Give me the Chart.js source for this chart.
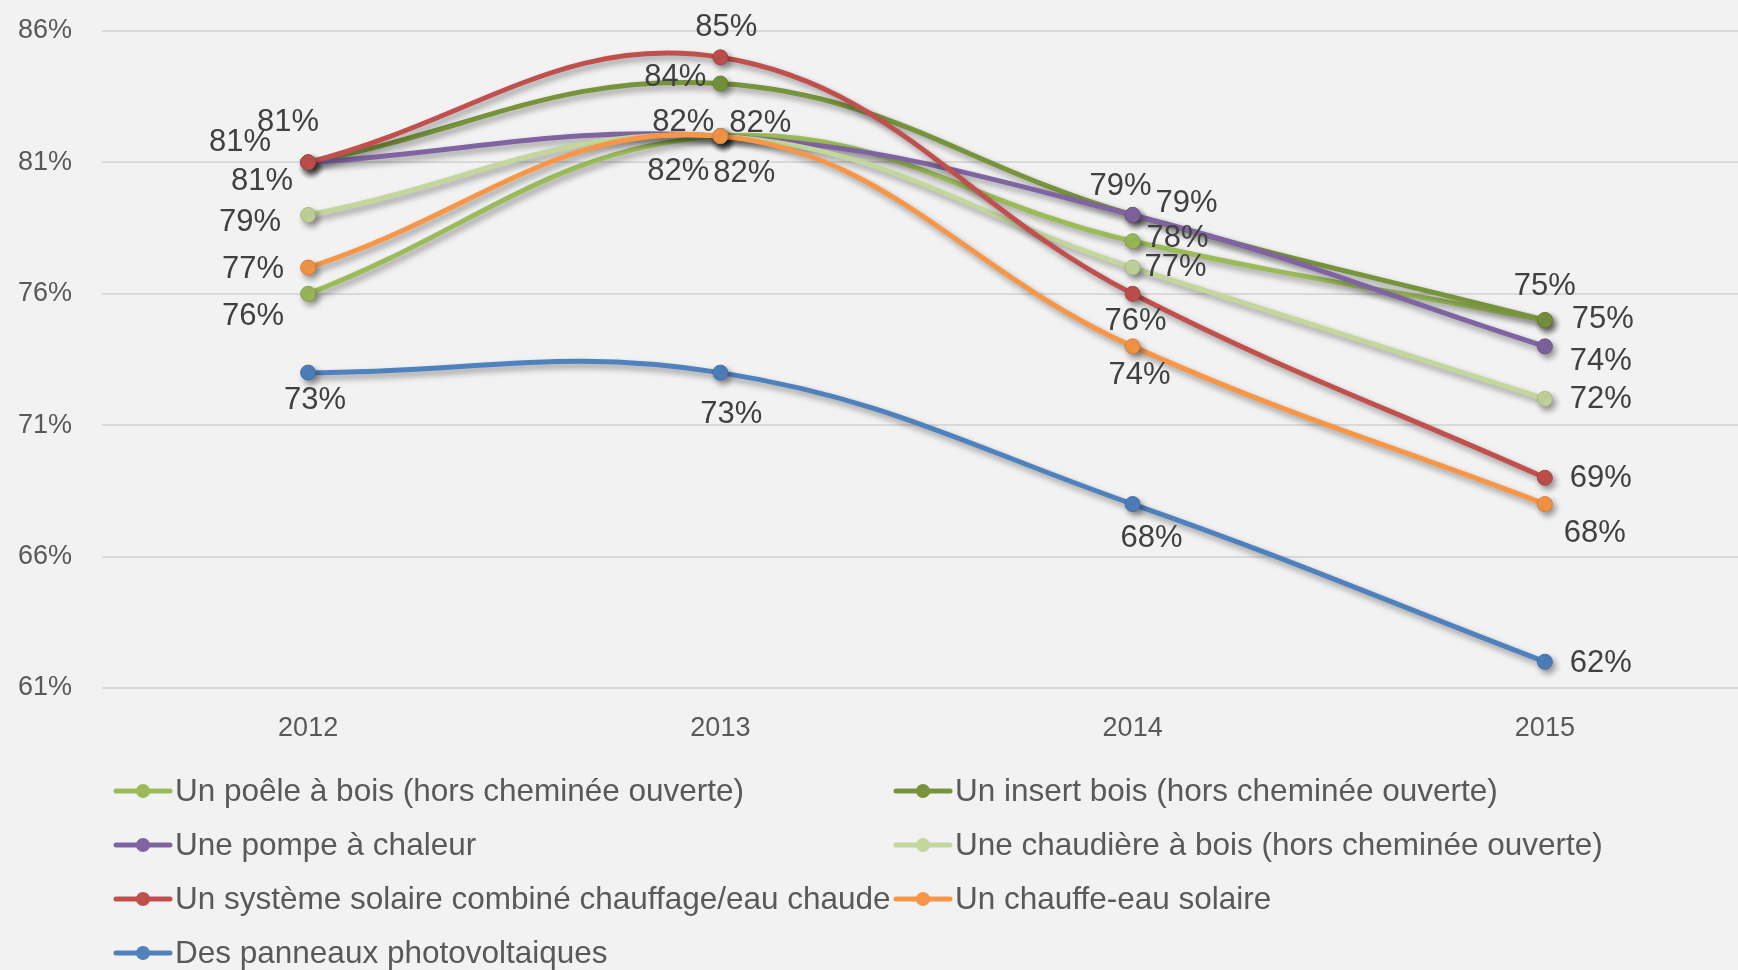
<!DOCTYPE html>
<html>
<head>
<meta charset="utf-8">
<script src="https://cdn.jsdelivr.net/npm/chart.js@4.4.1/dist/chart.umd.min.js"></script>
<style>
    html, body {margin: 0; padding: 0; background: #f2f2f2; overflow: hidden;}
    #wrap {width: 1760px; height: 970px;}
</style>
</head>
<body>
<div id="wrap"><canvas id="chart" width="1760" height="970"></canvas></div>
<script>
const years = ['2012', '2013', '2014', '2015'];
const seriesNames = [
    'Un poêle à bois (hors cheminée ouverte)',
    'Un insert bois (hors cheminée ouverte)',
    'Une pompe à chaleur',
    'Une chaudière à bois (hors cheminée ouverte)',
    'Un système solaire combiné chauffage/eau chaude',
    'Un chauffe-eau solaire',
    'Des panneaux photovoltaiques'
];
const poeleBois = [76, 82, 78, 75];
const insertBois = [81, 84, 79, 75];
const pompeChaleur = [81, 82, 79, 74];
const chaudiereBois = [79, 82, 77, 72];
const solaireCombine = [81, 85, 76, 69];
const chauffeEau = [77, 82, 74, 68];
const photovoltaique = [73, 73, 68, 62];
const yMin = 61, yMax = 86, yStep = 5;

const seriesValues = [poeleBois, insertBois, pompeChaleur, chaudiereBois, solaireCombine, chauffeEau, photovoltaique];
const colors = ['#9bbb59', '#77933c', '#8064a2', '#c3d69b', '#c0504d', '#f79646', '#4f81bd'];

// where each value label sits, relative to its point (dx, dy)
const labelOffsets = [
    [[-55, 23], [-42, 35], [45, -3], [58, -1]],
    [[-20, -40], [-45, -6], [54, -12], [0, -34]],
    [[-68, -20], [-37, -14], [-12, -29], [56, 15]],
    [[-58, 7], [40, -13], [43, 0], [56, 1]],
    [[-46, 19], [6, -30], [3, 28], [56, 1]],
    [[-55, 2], [24, 37], [7, 29], [50, 29]],
    [[7, 28], [11, 42], [19, 34], [56, 2]]
];

const font = '"Liberation Sans", Arial, sans-serif';

function darken(hex, f) {
    const n = parseInt(hex.slice(1), 16);
    const c = [n >> 16, (n >> 8) & 255, n & 255].map(v => Math.round(v * f));
    return 'rgb(' + c.join(',') + ')';
}

const lineShadow = {
    id: 'lineShadow',
    beforeDatasetDraw(chart) {
        const ctx = chart.ctx;
        ctx.save();
        ctx.shadowColor = 'rgba(0, 0, 0, 0.38)';
        ctx.shadowBlur = 6;
        ctx.shadowOffsetX = 3;
        ctx.shadowOffsetY = 4;
    },
    afterDatasetDraw(chart) {
        chart.ctx.restore();
    }
};

const valueLabels = {
    id: 'valueLabels',
    afterDatasetsDraw(chart) {
        const ctx = chart.ctx;
        ctx.save();
        ctx.font = '31px ' + font;
        ctx.fillStyle = '#404040';
        ctx.textAlign = 'center';
        ctx.textBaseline = 'middle';
        chart.data.datasets.forEach((ds, i) => {
            chart.getDatasetMeta(i).data.forEach((pt, j) => {
                const off = labelOffsets[i][j];
                ctx.fillText(ds.data[j] + '%', pt.x + off[0], pt.y + off[1]);
            });
        });
        ctx.restore();
    }
};

const twoColumnLegend = {
    id: 'twoColumnLegend',
    afterDraw(chart) {
        const ctx = chart.ctx;
        const cols = [116, 896];
        const top = 791, rowGap = 54;
        ctx.save();
        ctx.font = '31.5px ' + font;
        ctx.textBaseline = 'middle';
        ctx.textAlign = 'left';
        chart.data.datasets.forEach((ds, i) => {
            const x = cols[i % 2];
            const y = top + Math.floor(i / 2) * rowGap;
            ctx.strokeStyle = ds.borderColor;
            ctx.lineWidth = 5;
            ctx.lineCap = 'round';
            ctx.beginPath();
            ctx.moveTo(x, y);
            ctx.lineTo(x + 54, y);
            ctx.stroke();
            ctx.fillStyle = ds.borderColor;
            ctx.beginPath();
            ctx.arc(x + 27, y, 7, 0, Math.PI * 2);
            ctx.fill();
            ctx.fillStyle = '#595959';
            ctx.fillText(ds.label, x + 59, y + 1);
        });
        ctx.restore();
    }
};

new Chart(document.getElementById('chart'), {
    type: 'line',
    data: {
        labels: years,
        datasets: seriesValues.map((values, i) => ({
            label: seriesNames[i],
            data: values,
            borderColor: colors[i],
            backgroundColor: colors[i],
            pointBackgroundColor: colors[i],
            pointBorderColor: darken(colors[i], 0.85),
            pointBorderWidth: 1,
            pointRadius: 7.5,
            borderWidth: 5,
            tension: 0.4,
            fill: false,
            order: -i
        }))
    },
    options: {
        responsive: false,
        animation: false,
        layout: {padding: {top: 31, left: 16, right: 9, bottom: 226}},
        plugins: {
            legend: {display: false},
            tooltip: {enabled: false}
        },
        scales: {
            x: {
                offset: true,
                afterFit: scale => { scale.height = 56; },
                grid: {display: false, drawTicks: false},
                border: {display: false},
                ticks: {color: '#595959', font: {family: font, size: 27}, padding: 24}
            },
            y: {
                min: yMin,
                max: yMax,
                afterFit: scale => {
                    scale.width = 86;
                    scale.paddingTop = 16;
                    scale.paddingBottom = 16;
                },
                grid: {color: '#d9d9d9', lineWidth: 2, drawTicks: false},
                border: {display: false},
                ticks: {
                    stepSize: yStep,
                    padding: 30,
                    color: '#595959',
                    font: {family: font, size: 27},
                    callback: value => value + '%'
                }
            }
        }
    },
    plugins: [lineShadow, valueLabels, twoColumnLegend]
});
</script>
</body>
</html>
